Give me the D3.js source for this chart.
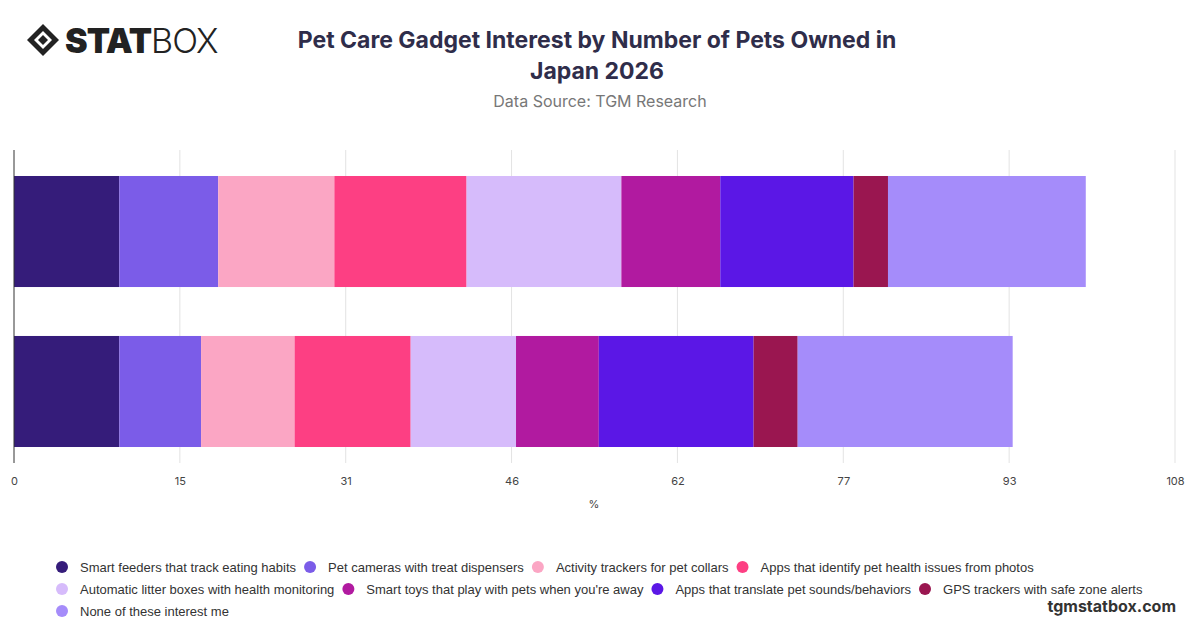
<!DOCTYPE html>
<html><head><meta charset="utf-8">
<script src="https://cdn.jsdelivr.net/npm/d3@7"></script>
<style>body{margin:0;background:#fff;font-family:Inter,"Open Sans",sans-serif;}</style>
</head><body><svg id="c" width="1200" height="628"></svg>
<script>
const categories = ['1 pet', '2 or more pets'];
const series = [
  'Smart feeders that track eating habits',
  'Pet cameras with treat dispensers',
  'Activity trackers for pet collars',
  'Apps that identify pet health issues from photos',
  'Automatic litter boxes with health monitoring',
  "Smart toys that play with pets when you're away",
  'Apps that translate pet sounds/behaviors',
  'GPS trackers with safe zone alerts',
  'None of these interest me'
];
const colors = ['#351c7a', '#7b5ce8', '#fba6c4', '#fd3f83', '#d6bbfb', '#b11aa0', '#5b17e6', '#9a1650', '#a58cfa'];
const values = [
  [9.8, 9.2, 10.8, 12.3, 14.4, 9.2, 12.4, 3.2, 18.4],
  [9.8, 7.6, 8.7, 10.8, 9.8, 7.7, 14.4, 4.1, 20.0]
];
const tickLabels = [0, 15, 31, 46, 62, 77, 93, 108];

const svg = d3.select('#c');
const margin = { left: 14, right: 25, top: 150, bottom: 165 };
const W = 1200, H = 628;
const x = d3.scaleLinear().domain([0, 108]).range([margin.left, W - margin.right]);
const y = d3.scaleBand().domain(categories).range([160, H - margin.bottom]).paddingInner(0.306).paddingOuter(0.1);

// logo
const logo = svg.append('g').attr('transform', 'translate(27,24)');
logo.append('path').attr('d', 'M16,0 L32,16 L16,32 L0,16 Z').attr('fill', '#222');
logo.append('path').attr('d', 'M16,7 L25,16 L16,25 L7,16 Z').attr('fill', '#fff');
logo.append('path').attr('d', 'M16,11 L21,16 L16,21 L11,16 Z').attr('fill', '#222');
logo.append('text').attr('x', 38).attr('y', 29).attr('font-size', 34).attr('font-weight', 900)
  .attr('fill', '#222').attr('font-family', 'Inter, sans-serif').attr('letter-spacing', -1)
  .html('STAT<tspan font-weight="300">BOX</tspan>');

svg.append('text').attr('x', 597).attr('y', 48).attr('text-anchor', 'middle').attr('font-size', 23)
  .attr('font-weight', 700).attr('fill', '#2f2d4a').text('Pet Care Gadget Interest by Number of Pets Owned in');
svg.append('text').attr('x', 597).attr('y', 79).attr('text-anchor', 'middle').attr('font-size', 23)
  .attr('font-weight', 700).attr('fill', '#2f2d4a').text('Japan 2026');
svg.append('text').attr('x', 600).attr('y', 107).attr('text-anchor', 'middle').attr('font-size', 16)
  .attr('fill', '#777').text('Data Source: TGM Research');

// grid
const ticks = tickLabels.map((d, i) => i * 108 / 7);
svg.append('g').selectAll('line').data(ticks.slice(1)).join('line')
  .attr('x1', d => x(d)).attr('x2', d => x(d)).attr('y1', margin.top).attr('y2', H - margin.bottom)
  .attr('stroke', '#e3e3e3');

const xAxis = svg.append('g').attr('transform', `translate(0,${H - margin.bottom})`)
  .call(d3.axisBottom(x).tickValues(ticks).tickFormat((d, i) => tickLabels[i]).tickSize(0).tickPadding(14));
xAxis.select('.domain').remove();
xAxis.selectAll('text').attr('font-size', 11).attr('fill', '#444').attr('font-family', 'Inter, sans-serif');
svg.append('text').attr('x', 594).attr('y', 508).attr('text-anchor', 'middle').attr('font-size', 11).attr('fill', '#444').text('%');

// bars
categories.forEach((c, ci) => {
  let acc = 0;
  const segs = values[ci].map((v, si) => { const s = { x0: acc, x1: acc + v, si }; acc += v; return s; });
  svg.append('g').selectAll('rect').data(segs).join('rect')
    .attr('x', d => x(d.x0)).attr('width', d => x(d.x1) - x(d.x0))
    .attr('y', y(c)).attr('height', y.bandwidth()).attr('fill', d => colors[d.si]);
});
svg.append('line').attr('x1', x(0)).attr('x2', x(0)).attr('y1', margin.top).attr('y2', H - margin.bottom)
  .attr('stroke', '#333');

// legend, flowed by measured text width
const rows = [[0, 1, 2, 3], [4, 5, 6, 7], [8]];
rows.forEach((r, ri) => {
  let cx = 62;
  r.forEach(si => {
    const g = svg.append('g').attr('transform', `translate(${cx},${567 + ri * 22})`);
    g.append('circle').attr('r', 6).attr('fill', colors[si]);
    const t = g.append('text').attr('x', 18).attr('y', 5).attr('font-size', 13)
      .attr('font-family', '"Liberation Sans", Arial, sans-serif').attr('fill', '#333').text(series[si]);
    cx += 18 + t.node().getComputedTextLength() + 14;
  });
});
svg.append('text').attr('x', 1176).attr('y', 612).attr('text-anchor', 'end').attr('font-size', 16)
  .attr('font-weight', 700).attr('fill', '#333').text('tgmstatbox.com');
</script></body></html>
